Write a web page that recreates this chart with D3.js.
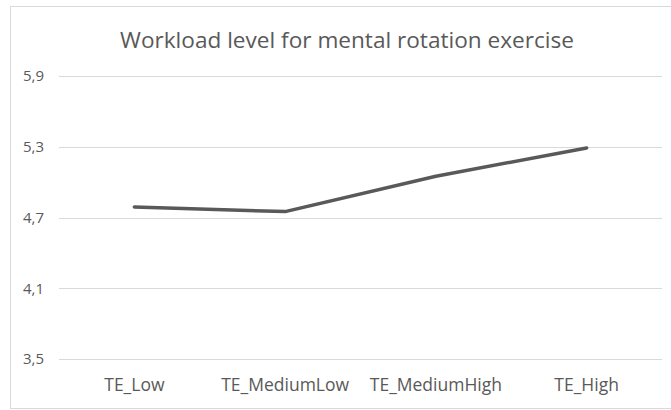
<!DOCTYPE html>
<html>
<head>
<meta charset="utf-8">
<script src="https://cdn.jsdelivr.net/npm/d3@7"></script>
<style>
  html, body { margin: 0; padding: 0; background: #fff; }
  svg { display: block; }
</style>
</head>
<body>
<svg id="chart" width="671" height="410"></svg>
<script>
const titleText = "Workload level for mental rotation exercise";
const categories = ["TE_Low", "TE_MediumLow", "TE_MediumHigh", "TE_High"];
const workload = [4.79, 4.75, 5.05, 5.29];
const yTicks = [3.5, 4.1, 4.7, 5.3, 5.9];

const svg = d3.select("#chart");
const W = 671, H = 410;
const margin = { left: 59, right: 9, top: 76, bottom: 51 };

// chart frame
svg.append("rect")
  .attr("x", 10.5).attr("y", 6.5)
  .attr("width", W - 10).attr("height", H - 8)
  .attr("fill", "#fff").attr("stroke", "#d9d9d9").attr("stroke-width", 1);

const x = d3.scaleBand().domain(categories)
  .range([margin.left, W - margin.right]).padding(0);
const y = d3.scaleLinear().domain([3.5, 5.9])
  .range([H - margin.bottom, margin.top]);

const font = "'Open Sans', sans-serif";

// horizontal gridlines
svg.append("g").selectAll("line").data(yTicks).join("line")
  .attr("x1", margin.left).attr("x2", W - margin.right)
  .attr("y1", d => Math.round(y(d)) + 0.5).attr("y2", d => Math.round(y(d)) + 0.5)
  .attr("stroke", "#d9d9d9").attr("stroke-width", 1);

// y axis labels (decimal comma)
const yAxis = d3.axisLeft(y).tickValues(yTicks)
  .tickFormat(d => d3.format(".1f")(d).replace(".", ","))
  .tickSize(0).tickPadding(0);
const gy = svg.append("g").attr("transform", `translate(${margin.left - 15},0)`).call(yAxis);
gy.select(".domain").remove();
gy.selectAll("text").attr("font-family", font).attr("font-size", 15).attr("fill", "#595959");

// x axis labels
const xAxis = d3.axisBottom(x).tickSize(0).tickPadding(0);
const gx = svg.append("g").attr("transform", `translate(0,${H - margin.bottom + 20})`).call(xAxis);
gx.select(".domain").remove();
gx.selectAll("text").attr("font-family", font).attr("font-size", 17.5).attr("fill", "#595959");

// series line
const line = d3.line()
  .x((d, i) => x(categories[i]) + x.bandwidth() / 2)
  .y(d => y(d));
svg.append("path").datum(workload)
  .attr("d", line)
  .attr("fill", "none").attr("stroke", "#595959")
  .attr("stroke-width", 3.5).attr("stroke-linecap", "round").attr("stroke-linejoin", "round");

// title
svg.append("text")
  .attr("x", 347).attr("y", 47.5)
  .attr("text-anchor", "middle")
  .attr("font-family", font).attr("font-size", 22.6).attr("fill", "#595959")
  .text(titleText);
</script>
</body>
</html>
